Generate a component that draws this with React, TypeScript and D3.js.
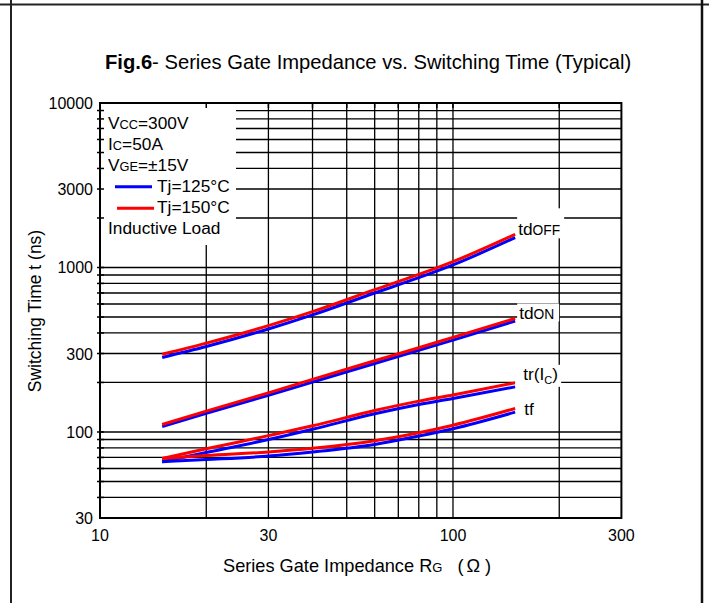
import React from "react";
import * as d3 from "d3";

const RG = [15, 20, 30, 40, 60, 80, 100, 150];
const TDOFF_125 = [284, 331, 423, 515, 700, 867, 1037, 1520];
const TDOFF_150 = [297, 347, 443, 539, 733, 908, 1086, 1591];
const TDON_125 = [108, 130, 167, 201, 261, 314, 362, 473];
const TDON_150 = [111, 134, 173, 209, 271, 325, 376, 490];
const TR_125 = [66, 75, 90, 104, 129, 147, 160, 188];
const TR_150 = [69, 79, 95, 109, 135, 154, 168, 199];
const TF_125 = [66, 68, 71.4, 75.6, 84, 94.5, 104.7, 132];
const TF_150 = [69, 72, 75.6, 79.6, 88.5, 99, 110, 139];

const X_TICKS = [10, 30, 100, 300];
const Y_TICKS = [30, 100, 300, 1000, 3000, 10000];
const X_GRID = [20, 30, 40, 50, 60, 70, 80, 90, 100, 200];
const Y_GRID = [40, 50, 60, 70, 80, 90, 100, 200, 300, 400, 500, 600, 700, 800, 900, 1000, 2000, 3000, 4000, 5000, 6000, 7000, 8000, 9000];

const SERIES = [
  { key: "tdoff", v125: TDOFF_125, v150: TDOFF_150 },
  { key: "tdon", v125: TDON_125, v150: TDON_150 },
  { key: "tr", v125: TR_125, v150: TR_150 },
  { key: "tf", v125: TF_125, v150: TF_150 },
];

const FONT = "'Liberation Sans', Arial, Helvetica, sans-serif";

export default function App() {
  const W = 709, H = 603;
  const x = d3.scaleLog().domain([10, 300]).range([100, 621.4]);
  const y = d3.scaleLog().domain([30, 10000]).range([518, 103]);
  const [x0, x1] = x.range();
  const [y0, y1] = y.range();

  const line = (vals: number[]) =>
    d3.line<number>()
      .x((_, i) => x(RG[i]))
      .y((d) => y(d))
      .curve(d3.curveMonotoneX)(vals) || "";

  const last = RG.length - 1;
  const ex = x(RG[last]);
  const endY = (vals: number[]) => y(vals[last]);

  return (
    <svg width={W} height={H} style={{ position: "absolute", left: 0, top: 0, background: "#fff" }} fontFamily={FONT}>
      <rect x={0} y={0} width={W} height={H} fill="#fff" />
      {/* outer frame */}
      <line x1={0} x2={W} y1={4.5} y2={4.5} stroke="#222" strokeWidth={2} />
      <line x1={11} x2={11} y1={0} y2={H} stroke="#222" strokeWidth={2} />
      <line x1={702} x2={702} y1={0} y2={H} stroke="#111" strokeWidth={2.5} />

      {/* title */}
      <text x={105} y={69} fontSize={20.2} fill="#000">
        <tspan fontWeight="bold">Fig.6</tspan>
        <tspan>- Series Gate Impedance vs. Switching Time (Typical)</tspan>
      </text>

      {/* grid */}
      {X_GRID.map((v) => (
        <line key={"gx" + v} x1={x(v)} x2={x(v)} y1={y1} y2={y0} stroke="#000" strokeWidth={1.3} />
      ))}
      {Y_GRID.map((v) => (
        <line key={"gy" + v} x1={x0} x2={x1} y1={y(v)} y2={y(v)} stroke="#000" strokeWidth={1.3} />
      ))}

      {/* legend box */}
      <rect x={x0} y={y1} width={136} height={142} fill="#fff" />

      {/* ticks */}
      {Y_GRID.map((v) => (
        <line key={"ty" + v} x1={x0 - 3} x2={x0 + 4} y1={y(v)} y2={y(v)} stroke="#000" strokeWidth={1.5} />
      ))}
      {X_GRID.map((v) => (
        <line key={"tx" + v} x1={x(v)} x2={x(v)} y1={y1} y2={y1 + 5} stroke="#000" strokeWidth={1.5} />
      ))}

      {/* plot frame */}
      <rect x={x0} y={y1} width={x1 - x0} height={y0 - y1} fill="none" stroke="#000" strokeWidth={2} />

      {/* tick labels */}
      {X_TICKS.map((v) => (
        <text key={"lx" + v} x={x(v)} y={541} fontSize={16} textAnchor="middle" fill="#000">{v}</text>
      ))}
      {Y_TICKS.map((v) => (
        <text key={"ly" + v} x={93} y={y(v) + 6} fontSize={16} textAnchor="end" fill="#000">{v}</text>
      ))}

      {/* axis titles */}
      <text x={223} y={572} fontSize={18.2} fill="#000">
        <tspan>Series Gate Impedance R</tspan>
        <tspan fontSize={13}>G</tspan>
        <tspan dx={15}>(</tspan>
        <tspan dx={3}>Ω</tspan>
        <tspan dx={5}>)</tspan>
      </text>
      <text transform="translate(41,311) rotate(-90)" fontSize={17.5} textAnchor="middle" fill="#000">
        Switching Time t  (ns)
      </text>

      {/* legend */}
      <g fontSize={17.3} fill="#000">
        <text x={108} y={128.5}>V<tspan fontSize={12.8}>CC</tspan>=300V</text>
        <text x={108} y={149.5}>I<tspan fontSize={12.8}>C</tspan>=50A</text>
        <text x={108} y={170.5}>V<tspan fontSize={12.8}>GE</tspan>=±15V</text>
        <line x1={115} x2={152} y1={186.7} y2={186.7} stroke="#0000ff" strokeWidth={3} />
        <text x={157} y={191.5}>Tj=125°C</text>
        <line x1={117} x2={154} y1={208.3} y2={208.3} stroke="#ff0000" strokeWidth={3} />
        <text x={157} y={212.5}>Tj=150°C</text>
        <text x={108} y={234}>Inductive Load</text>
      </g>

      {/* curves */}
      {SERIES.map((s) => (
        <path key={"b" + s.key} d={line(s.v125)} fill="none" stroke="#0000ff" strokeWidth={3} />
      ))}
      {SERIES.map((s) => (
        <path key={"r" + s.key} d={line(s.v150)} fill="none" stroke="#ff0000" strokeWidth={3} />
      ))}

      {/* curve labels */}
      <g fill="#000" fontSize={17.3}>
        <rect x={ex + 2} y={endY(TDOFF_150) - 26} width={47} height={30} fill="#fff" />
        <text x={ex + 3} y={endY(TDOFF_150) + 1}>td<tspan fontSize={13.8}>OFF</tspan></text>

        <rect x={ex + 2} y={endY(TDON_150) - 15} width={42} height={18} fill="#fff" />
        <text x={ex + 4} y={endY(TDON_150) + 1}>td<tspan fontSize={13.8}>ON</tspan></text>

        <rect x={ex} y={endY(TR_150) - 18} width={46} height={22} fill="#fff" />
        <text x={ex + 8} y={endY(TR_150) - 3}>tr(I<tspan fontSize={11} dy={4}>C</tspan><tspan dy={-4}>)</tspan></text>

        <text x={ex + 9} y={endY(TF_150) + 7}>tf</text>
      </g>
    </svg>
  );
}
